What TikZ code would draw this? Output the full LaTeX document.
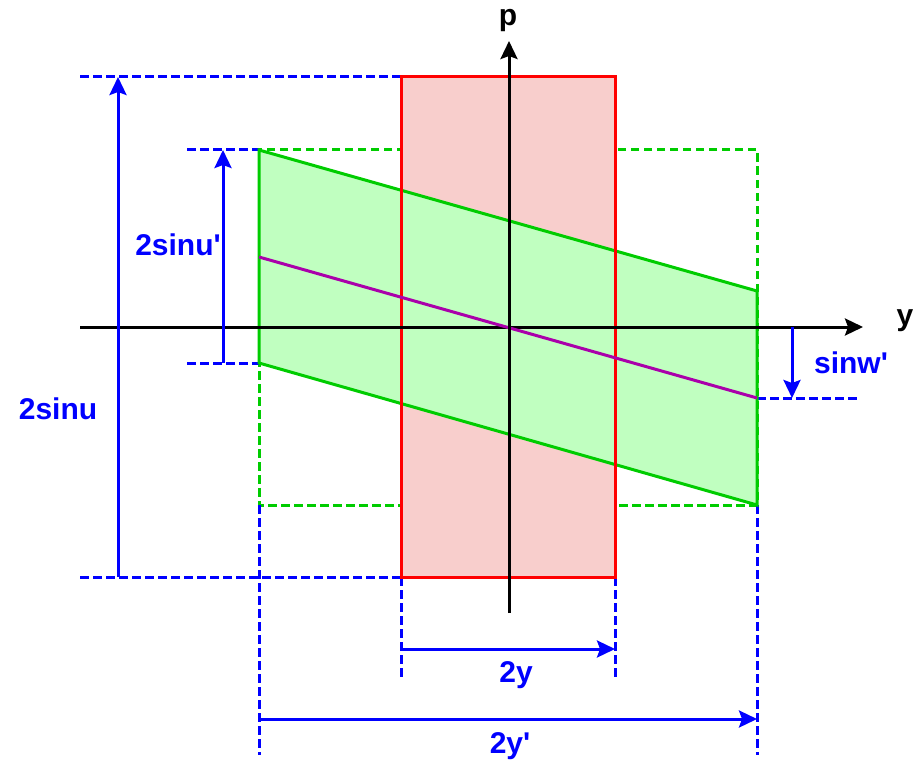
\documentclass[tikz,border=0pt]{standalone}
\usepackage{fontspec}
\setmainfont{Liberation Sans}
\newfontfamily\lblfont{Liberation Sans}
\usetikzlibrary{arrows.meta}
\definecolor{gline}{HTML}{00CC00}
\definecolor{gfill}{HTML}{C0FFC0}
\definecolor{pfill}{HTML}{F8CECC}
\definecolor{purp}{HTML}{AA00AA}
\definecolor{bl}{HTML}{0000FF}
\tikzset{
  dim/.style={draw=bl, line width=3pt, dash pattern=on 8.5pt off 4.5pt},
  gdash/.style={draw=gline, line width=3pt, dash pattern=on 8.5pt off 4.5pt},
  tipa/.style={-{Stealth[length=18pt,width=17pt,inset=3pt]}},
  barrow/.style={draw=bl, line width=3pt, tipa},
  axis/.style={draw=black, line width=3pt, tipa},
  lbl/.style={font=\lblfont\bfseries\fontsize{30}{36}\selectfont, anchor=base, inner sep=0pt},
}
\begin{document}
\begin{tikzpicture}[x=1pt,y=-1pt]
\useasboundingbox (0,0) rectangle (917,762);
% key points
\coordinate (gTL) at (259,150);
\coordinate (gTR) at (757,291);
\coordinate (gBR) at (757,505);
\coordinate (gBL) at (259,363);
\coordinate (rTL) at (401,77);
\coordinate (rBR) at (615,577);
% green dashed bounding rectangle
\draw[gdash] (259,150) rectangle (757,505);
% blue dashed guide lines
\coordinate (d1a) at (80,77);   \draw[dim] (d1a) -- (rTL);
\coordinate (d2a) at (80,577);  \coordinate (rBL) at (401,577); \draw[dim] (d2a) -- (rBL);
\coordinate (d3a) at (187,150); \draw[dim] (d3a) -- (gTL);
\coordinate (d4a) at (187,363); \draw[dim] (d4a) -- (gBL);
\coordinate (pR) at (757,398);  \coordinate (d5b) at (860,398); \draw[dim] (pR) -- (d5b);
\coordinate (gBLd) at (259,505); \coordinate (d6b) at (259,755); \draw[dim] (gBLd) -- (d6b);
\coordinate (d7b) at (757,755); \draw[dim] (gBR) -- (d7b);
\coordinate (d8b) at (401,680); \draw[dim] (rBL) -- (d8b);
\coordinate (d9b) at (615,680); \draw[dim] (rBR) -- (d9b);
% red rectangle fill
\fill[pfill] (rTL) rectangle (rBR);
% green parallelogram
\draw[gline, fill=gfill, line width=3pt, line join=miter] (gTL) -- (gTR) -- (gBR) -- (gBL) -- cycle;
% red border on top
\draw[red, line width=3pt] (rTL) rectangle (rBR);
% horizontal axis
\coordinate (ya) at (80,327); \coordinate (yb) at (863,327);
\draw[axis] (ya) -- (yb);
% purple centre line
\coordinate (pL) at (259,257);
\draw[purp, line width=3pt] (pL) -- (pR);
% vertical axis
\coordinate (pa) at (509,613); \coordinate (pb) at (509,41);
\draw[axis] (pa) -- (pb);
% blue dimension arrows
\coordinate (a1a) at (118,577); \coordinate (a1b) at (118,77);
\draw[barrow] (a1a) -- (a1b);
\coordinate (a2a) at (223,363); \coordinate (a2b) at (223,150);
\draw[barrow] (a2a) -- (a2b);
\coordinate (a3a) at (792,327); \coordinate (a3b) at (792,398);
\draw[barrow] (a3a) -- (a3b);
\coordinate (a4a) at (401,649); \coordinate (a4b) at (615,649);
\draw[barrow] (a4a) -- (a4b);
\coordinate (a5a) at (259,719); \coordinate (a5b) at (757,719);
\draw[barrow] (a5a) -- (a5b);
% labels
\node[lbl] (lp) at (508,25.5) {p};
\node[lbl] (ly) at (905,325.5) {y};
\node[lbl, text=bl] (lsw) at (851,373) {sinw'};
\node[lbl, text=bl] (lsu1) at (178,255) {2sinu'};
\node[lbl, text=bl] (lsu) at (58,419) {2sinu};
\node[lbl, text=bl] (l2y) at (516,682) {2y};
\node[lbl, text=bl] (l2y1) at (510,753) {2y'};
\end{tikzpicture}
\end{document}
